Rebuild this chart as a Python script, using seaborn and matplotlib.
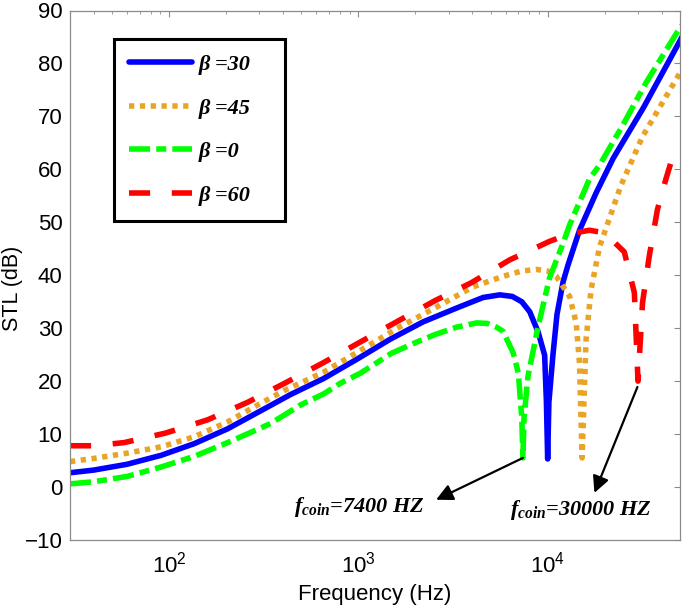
import matplotlib
matplotlib.use("Agg")
import matplotlib.pyplot as plt
import seaborn as sns


# values (frequency in Hz, STL in dB)
freq_b30 = [30, 40, 60, 91, 136, 204, 305, 440, 656, 1000, 1470, 2200, 3300, 4560,
            5590, 6500, 7300, 8040, 8900, 9640, 9850, 10000, 10150, 10660, 11200,
            12050, 12800, 14730, 18000, 22200, 32000, 49500, 52000]
stl_b30 = [2.7, 3.2, 4.3, 6.0, 8.2, 11.0, 14.4, 17.5, 20.5, 24.3, 27.9, 31.2, 33.8, 35.8,
           36.3, 36.0, 35.0, 33.1, 29.3, 24.9, 16.0, 5.3, 16.0, 24.9, 32.6,
           38.7, 41.9, 48.5, 55.5, 62.1, 71.6, 84.0, 85.5]

freq_b45 = [30, 40, 60, 91, 136, 204, 294, 405, 656, 1025, 1590, 2590, 4030, 5820,
            7300, 8720, 10000, 11100, 13060, 14150, 14730, 15200, 15950, 16950, 18800,
            24400, 31700, 50500]
stl_b45 = [4.8, 5.4, 6.4, 7.6, 9.5, 12.3, 15.5, 18.2, 21.7, 25.8, 29.9, 34.0, 37.8, 39.8,
           40.8, 41.1, 40.8, 39.8, 36.0, 31.0, 23.4, 5.5, 27.8, 37.3, 45.4,
           57.0, 66.2, 78.5]

freq_b0 = [30, 40, 60, 91, 136, 204, 294, 344, 495, 656, 803, 1025, 1503, 2040, 2540,
           3305, 4220, 4800, 5370, 5820, 6580, 7000, 7300, 7400, 7500, 7870, 8900,
           10230, 12050, 13060, 16640, 18800, 24900, 33000, 48500, 52000]
stl_b0 = [0.6, 1.0, 2.0, 3.8, 5.8, 8.4, 10.9, 12.0, 15.5, 17.6, 19.6, 21.5, 25.3, 27.4, 28.8,
          30.2, 31.0, 30.9, 30.2, 29.4, 25.3, 21.5, 13.0, 5.5, 13.0, 20.9, 30.3,
          39.5, 46.0, 49.5, 58.2, 60.8, 68.3, 76.3, 86.0, 87.5]

freq_b60 = [30, 40, 58, 96, 160, 260, 408, 647, 1025, 1610, 2540, 3960, 6300, 10230,
            13000, 16640, 20000, 25400, 28700, 30000, 31700, 34400, 38000, 42000, 44700,
            50000]
stl_b60 = [7.8, 7.8, 8.4, 10.2, 12.7, 16.0, 19.6, 23.4, 27.4, 31.3, 35.2, 38.6, 42.9, 46.4,
           47.8, 48.5, 48.0, 44.4, 36.7, 20.0, 34.8, 43.6, 52.4, 58.0, 61.2,
           63.5]

labels = ["\u03b2 =30", "\u03b2 =45", "\u03b2 =0", "\u03b2 =60"]
y_ticks = list(range(-10, 91, 10))

# coincidence annotations: (text anchor, arrow tail, arrow head) in data units
coin_7400 = {"text": (455, -4.8), "tail": (7400, 5.5), "head": (2575, -2.4)}
coin_30000 = {"text": (6310, -5.2), "tail": (29800, 18.9), "head": (17660, -1.1)}


sns.set_style("white")
plt.rcParams["font.family"] = ["Liberation Sans", "DejaVu Sans"]
plt.rcParams["text.color"] = "black"
plt.rcParams["axes.labelcolor"] = "black"
plt.rcParams["mathtext.fontset"] = "custom"
plt.rcParams["mathtext.it"] = "Liberation Serif:italic:bold"
plt.rcParams["mathtext.rm"] = "Liberation Serif:bold"
plt.rcParams["mathtext.bf"] = "Liberation Serif:bold"

fig = plt.figure(figsize=(6.85, 6.09), dpi=100)
ax = fig.add_axes([70 / 685, 69 / 609, 610 / 685, 529.5 / 609])

lw = 4.0
sns.lineplot(x=freq_b30, y=stl_b30, ax=ax, color="#0000FF", lw=lw,
             label=labels[0], errorbar=None)
sns.lineplot(x=freq_b45, y=stl_b45, ax=ax, color="#E9A426", lw=lw,
             linestyle=(0, (0.95, 1.0)), label=labels[1], errorbar=None)
sns.lineplot(x=freq_b0, y=stl_b0, ax=ax, color="#00FF00", lw=lw,
             linestyle=(0, (3.8, 1.1, 1.8, 1.1)), label=labels[2], errorbar=None)
sns.lineplot(x=freq_b60, y=stl_b60, ax=ax, color="#FF0000", lw=lw,
             linestyle=(0, (3.8, 3.9)), label=labels[3], errorbar=None)

ax.set_xscale("log")
ax.set_xlim(30, 50000)
ax.set_ylim(-10, 90)
ax.set_yticks(y_ticks)

spine_grey = "#8a8a8a"
for side in ["left", "right", "top", "bottom"]:
    ax.spines[side].set_visible(True)
    ax.spines[side].set_color(spine_grey)
    ax.spines[side].set_linewidth(0.9)

ax.tick_params(which="both", direction="in", top=True, right=True,
               color=spine_grey, labelsize=16, labelcolor="black")
ax.tick_params(which="major", length=4)
ax.tick_params(which="minor", length=2.2)
ax.tick_params(axis="x", which="major", pad=8)
ax.tick_params(axis="y", which="major", pad=5.5)

ax.set_xlabel("Frequency (Hz)", fontsize=16, labelpad=5)
ax.set_ylabel("STL (dB)", fontsize=15.5)
ax.yaxis.set_label_coords(-0.077, 0.476)

leg = ax.legend(loc="upper left", bbox_to_anchor=(0.072, 0.5, 0.280, 0.446),
                mode="expand", borderaxespad=0,
                frameon=True, fancybox=False, framealpha=1, handlelength=2.8,
                handletextpad=0.3, labelspacing=1.03, borderpad=0.7,
                prop={"family": "Liberation Serif", "weight": "bold",
                      "style": "italic", "size": 16})
leg.get_frame().set_edgecolor("black")
leg.get_frame().set_linewidth(2.2)

text_font = {"family": "Liberation Serif", "weight": "bold", "style": "italic", "size": 16}
for coin, value in [(coin_7400, "7400"), (coin_30000, "30000")]:
    ax.annotate("", xy=coin["head"], xytext=coin["tail"],
                arrowprops=dict(arrowstyle="-|>", color="black", lw=1.6,
                                mutation_scale=25, shrinkA=0, shrinkB=0))
    ax.text(coin["text"][0], coin["text"][1], "$f_{coin}$=" + value + " HZ",
            ha="left", va="baseline", fontdict=text_font)

fig.savefig("out.png", dpi=100)
